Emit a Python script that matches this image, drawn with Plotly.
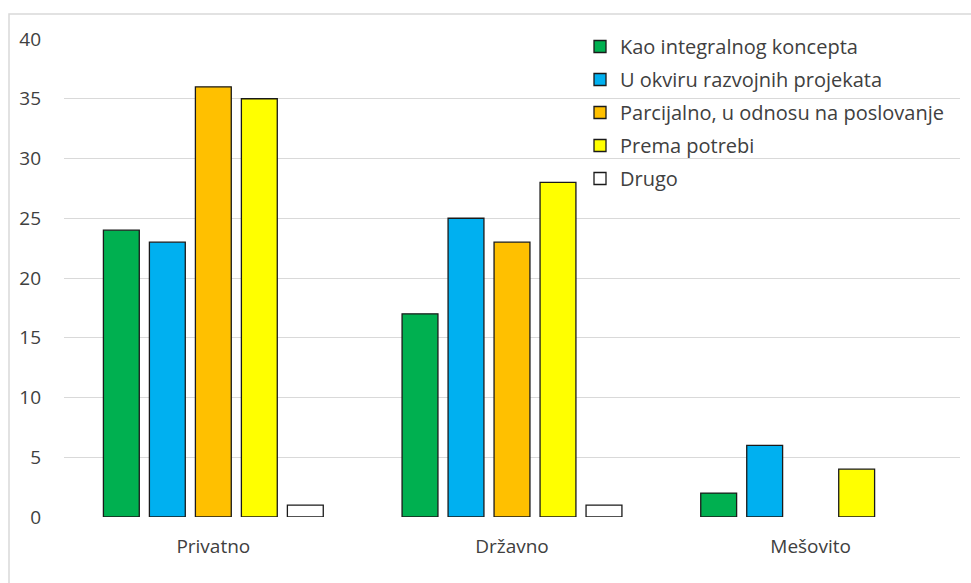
import plotly.graph_objects as go

categories = ["Privatno", "Državno", "Mešovito"]
series_names = [
    "Kao integralnog koncepta",
    "U okviru razvojnih projekata",
    "Parcijalno, u odnosu na poslovanje",
    "Prema potrebi",
    "Drugo",
]
kao_integralnog = [24, 17, 2]
u_okviru = [23, 25, 6]
parcijalno = [36, 23, None]
prema_potrebi = [35, 28, 4]
drugo = [1, 1, None]
series_values = [kao_integralnog, u_okviru, parcijalno, prema_potrebi, drugo]
colors = ["#00B050", "#00B0F0", "#FFC000", "#FFFF00", "#FFFFFF"]
y_ticks = [0, 5, 10, 15, 20, 25, 30, 35, 40]

W, H = 971, 583
L, R, T, B = 64, 11, 39, 66
pw, ph = W - L - R, H - T - B

fig = go.Figure()
for name, vals, col in zip(series_names, series_values, colors):
    fig.add_trace(go.Bar(
        x=categories, y=vals, name=name, legendgroup=name,
        marker=dict(color=col, line=dict(color="#1a1a1a", width=1.3)),
    ))

font_family = "Open Sans, Lato, sans-serif"
text_color = "#404040"

# outer chart frame
fig.add_shape(type="rect", xref="paper", yref="paper",
              x0=(9 - L) / pw, x1=(W + 10 - L) / pw,
              y0=-(H + 10 - T - ph) / ph, y1=1 + (T - 14) / ph,
              line=dict(color="#d9d9d9", width=1.5), fillcolor="rgba(0,0,0,0)",
              layer="below")

fig.update_layout(
    width=W, height=H,
    margin=dict(l=L, r=R, t=T, b=B),
    paper_bgcolor="white", plot_bgcolor="white",
    barmode="group", bargap=0.23, bargroupgap=0.22,
    font=dict(family=font_family, size=19, color=text_color),
    showlegend=True,
    legend=dict(
        x=(580 - L) / pw, y=1 + (T - 27) / ph, xanchor="left", yanchor="top",
        bgcolor="rgba(0,0,0,0)", font=dict(size=20, color=text_color),
        itemwidth=30, traceorder="grouped", tracegroupgap=4,
    ),
    xaxis=dict(showline=False, ticks="", tickfont=dict(size=19, color=text_color),
               ticklabelstandoff=16),
    yaxis=dict(range=[0, 40], tickvals=y_ticks, showgrid=True,
               gridcolor="#d9d9d9", gridwidth=1.3, zeroline=False, showline=False,
               tickfont=dict(size=19, color=text_color), ticklabelstandoff=22),
)

fig.write_html("out.html")
